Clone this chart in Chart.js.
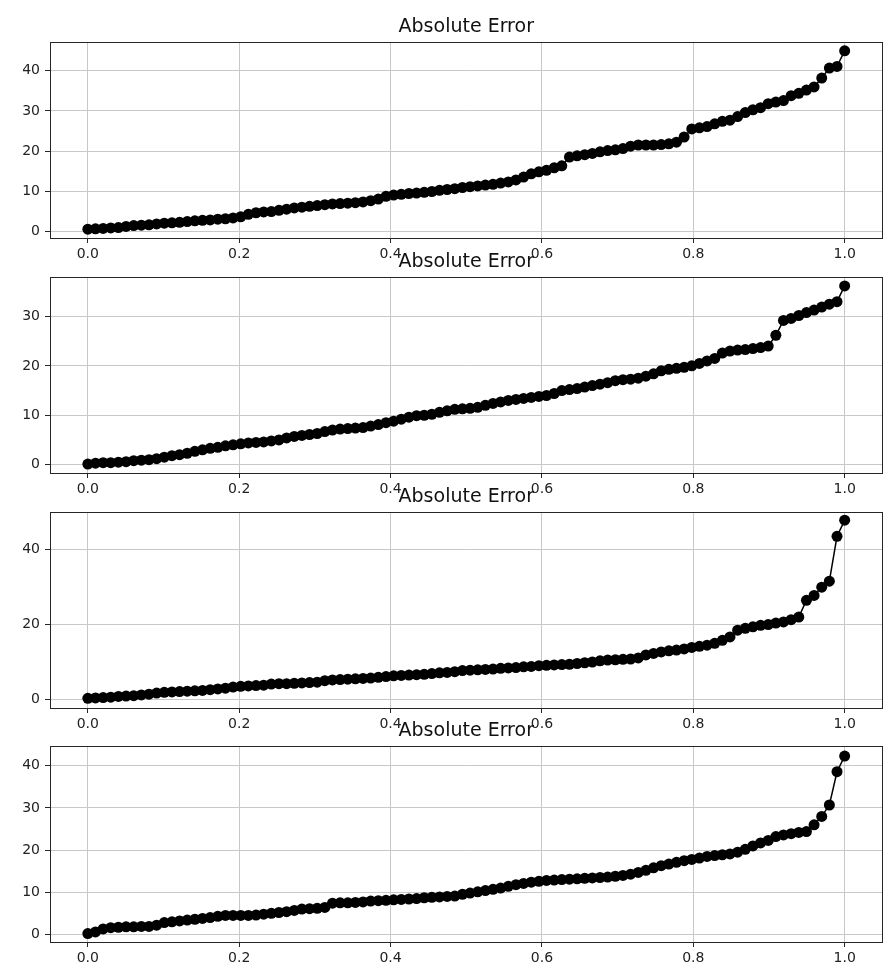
<!DOCTYPE html>
<html>
<head>
<meta charset="utf-8">
<script src="https://cdn.jsdelivr.net/npm/chart.js@4.4.1/dist/chart.umd.min.js"></script>
<style>
  html, body { margin: 0; padding: 0; background: #fff; }
  #wrap { position: relative; width: 888px; height: 973px; overflow: hidden; }
  #wrap canvas { position: absolute; left: 0; }
</style>
</head>
<body>
<div id="wrap"></div>
<script>
// ===== data (sorted absolute errors, one list per panel) =====
const panelTitle = "Absolute Error";

const errorsA = [
  0.5, 0.6, 0.7, 0.8, 0.9, 1.2, 1.4, 1.5, 1.6, 1.8,
  2.0, 2.1, 2.2, 2.4, 2.6, 2.7, 2.8, 3.0, 3.1, 3.3,
  3.6, 4.2, 4.6, 4.8, 4.9, 5.2, 5.5, 5.8, 6.0, 6.2,
  6.4, 6.6, 6.8, 6.9, 7.0, 7.1, 7.3, 7.6, 8.0, 8.7,
  9.0, 9.2, 9.4, 9.5, 9.7, 9.9, 10.2, 10.4, 10.6, 10.9,
  11.1, 11.3, 11.5, 11.7, 12.0, 12.3, 12.8, 13.5, 14.3, 14.8,
  15.2, 15.8, 16.3, 18.5, 18.8, 19.1, 19.4, 19.8, 20.1, 20.3,
  20.6, 21.2, 21.5, 21.5, 21.5, 21.6, 21.8, 22.2, 23.5, 25.5,
  25.8, 26.1, 26.8, 27.4, 27.7, 28.6, 29.6, 30.3, 30.8, 31.8,
  32.2, 32.6, 33.8, 34.4, 35.2, 36.0, 38.2, 40.7, 41.1, 45.0
];
const errorsB = [
  0.1, 0.3, 0.4, 0.4, 0.5, 0.6, 0.8, 0.9, 1.0, 1.2,
  1.5, 1.8, 2.0, 2.3, 2.7, 3.0, 3.3, 3.5, 3.8, 4.0,
  4.2, 4.4, 4.5, 4.6, 4.8, 5.0, 5.4, 5.7, 5.9, 6.1,
  6.3, 6.7, 7.0, 7.2, 7.3, 7.4, 7.5, 7.8, 8.1, 8.5,
  8.8, 9.2, 9.6, 9.9, 10.0, 10.2, 10.6, 10.9, 11.2, 11.3,
  11.4, 11.6, 12.0, 12.4, 12.7, 13.0, 13.2, 13.4, 13.6, 13.8,
  14.0, 14.4, 15.0, 15.2, 15.4, 15.7, 16.0, 16.3, 16.6, 17.0,
  17.2, 17.3, 17.5, 17.9, 18.4, 19.0, 19.3, 19.5, 19.7, 20.0,
  20.5, 21.0, 21.5, 22.6, 23.0, 23.2, 23.3, 23.5, 23.7, 24.0,
  26.2, 29.2, 29.6, 30.2, 30.8, 31.3, 31.9, 32.5, 33.0, 36.2
];
const errorsC = [
  0.2, 0.3, 0.4, 0.5, 0.7, 0.8, 0.9, 1.1, 1.3, 1.6,
  1.8, 1.9, 2.0, 2.1, 2.2, 2.3, 2.5, 2.7, 2.9, 3.2,
  3.4, 3.5, 3.6, 3.7, 4.0, 4.1, 4.1, 4.2, 4.3, 4.4,
  4.5, 4.9, 5.1, 5.2, 5.3, 5.4, 5.5, 5.6, 5.8, 6.0,
  6.2, 6.3, 6.4, 6.5, 6.6, 6.8, 7.0, 7.1, 7.3, 7.6,
  7.7, 7.8, 7.9, 8.0, 8.2, 8.3, 8.4, 8.6, 8.7, 8.9,
  9.0, 9.1, 9.2, 9.3, 9.5, 9.7, 9.9, 10.2, 10.4, 10.5,
  10.6, 10.7, 11.0, 11.8, 12.2, 12.6, 12.9, 13.1, 13.4, 13.8,
  14.1, 14.4, 14.9, 15.7, 16.6, 18.4, 18.9, 19.3, 19.7, 19.9,
  20.3, 20.6, 21.2, 21.9, 26.4, 27.7, 29.9, 31.5, 43.5, 47.8
];
const errorsD = [
  0.2, 0.6, 1.3, 1.6, 1.7, 1.8, 1.8, 1.9, 1.9, 2.2,
  2.8, 3.0, 3.2, 3.4, 3.6, 3.8, 4.0, 4.3, 4.5, 4.5,
  4.5, 4.5, 4.6, 4.8, 5.0, 5.2, 5.4, 5.7, 6.0, 6.1,
  6.2, 6.4, 7.4, 7.5, 7.5, 7.6, 7.7, 7.9, 8.0, 8.1,
  8.2, 8.3, 8.4, 8.5, 8.7, 8.8, 8.9, 9.0, 9.1, 9.5,
  9.8, 10.1, 10.4, 10.7, 11.0, 11.4, 11.8, 12.1, 12.4, 12.6,
  12.8, 12.9, 13.0, 13.1, 13.2, 13.3, 13.4, 13.5, 13.6, 13.8,
  14.0, 14.3, 14.7, 15.2, 15.8, 16.3, 16.7, 17.1, 17.5, 17.8,
  18.1, 18.5, 18.7, 18.9, 19.1, 19.5, 20.2, 21.0, 21.7, 22.3,
  23.2, 23.6, 23.9, 24.2, 24.4, 26.0, 28.0, 30.7, 38.6, 42.3
];

const xTicks = [0.0, 0.2, 0.4, 0.6, 0.8, 1.0];
const yTicksA = [0, 10, 20, 30, 40];
const yTicksB = [0, 10, 20, 30];
const yTicksC = [0, 20, 40];
const yTicksD = [0, 10, 20, 30, 40];

// ===== layout of the four panels =====
const panels = [
  { data: errorsA, ticks: yTicksA, min: -1.7, max: 47.2, top: 42 },
  { data: errorsB, ticks: yTicksB, min: -1.7, max: 38.0, top: 277 },
  { data: errorsC, ticks: yTicksC, min: -2.4, max: 50.0, top: 512 },
  { data: errorsD, ticks: yTicksD, min: -1.8, max: 44.7, top: 746 }
];
const PAD_TOP = 42, BOX_H = 196, X_AXIS_H = 30, Y_AXIS_W = 50;
const FONT = '"DejaVu Sans", sans-serif';

// frame around the axes + the title above each panel
const framePlugin = {
  id: 'frame',
  afterDraw(chart, args, opts) {
    const { ctx, chartArea: a } = chart;
    ctx.save();
    ctx.strokeStyle = '#262626';
    ctx.lineWidth = 1;
    ctx.strokeRect(Math.round(a.left) + 0.5, Math.round(a.top) + 0.5,
                   Math.round(a.right - a.left) - 1, Math.round(a.bottom - a.top));
    ctx.fillStyle = '#111';
    ctx.font = '19px ' + FONT;
    ctx.textAlign = 'center';
    ctx.textBaseline = 'alphabetic';
    ctx.fillText(opts.text, (a.left + a.right) / 2, a.top - 10);
    ctx.restore();
  }
};

const wrap = document.getElementById('wrap');

panels.forEach((p, k) => {
  const canvas = document.createElement('canvas');
  canvas.width = 888;
  canvas.height = PAD_TOP + BOX_H + X_AXIS_H;
  canvas.style.top = (p.top - PAD_TOP) + 'px';
  wrap.appendChild(canvas);

  // each sample sits at its rank position between 0 and 1
  const points = p.data.map((v, i) => ({ x: i / (p.data.length - 1), y: v }));

  new Chart(canvas.getContext('2d'), {
    type: 'line',
    data: {
      datasets: [{
        data: points,
        borderColor: '#000',
        borderWidth: 1.5,
        pointRadius: 5.5,
        pointBackgroundColor: '#000',
        pointBorderColor: '#000',
        pointBorderWidth: 0,
        pointHoverRadius: 5.5,
        tension: 0,
        fill: false
      }]
    },
    options: {
      responsive: false,
      animation: false,
      events: [],
      layout: { padding: { top: PAD_TOP, left: 0, right: 4, bottom: 0 } },
      plugins: {
        legend: { display: false },
        title: { display: false },
        tooltip: { enabled: false },
        frame: { text: panelTitle }
      },
      scales: {
        x: {
          type: 'linear',
          min: -0.05,
          max: 1.05,
          afterBuildTicks: s => { s.ticks = xTicks.map(v => ({ value: v })); },
          afterFit: s => { s.height = X_AXIS_H; },
          border: { display: false },
          grid: { color: '#c8c8c8', lineWidth: 1, tickLength: 5, tickColor: '#262626' },
          ticks: {
            padding: 3,
            color: '#222',
            font: { family: FONT, size: 14 },
            callback: v => v.toFixed(1)
          }
        },
        y: {
          min: p.min,
          max: p.max,
          afterBuildTicks: s => { s.ticks = p.ticks.map(v => ({ value: v })); },
          afterFit: s => { s.width = Y_AXIS_W; },
          border: { display: false },
          grid: { color: '#c8c8c8', lineWidth: 1, tickLength: 5, tickColor: '#262626' },
          ticks: {
            padding: 5,
            color: '#222',
            font: { family: FONT, size: 14 },
            callback: v => String(v)
          }
        }
      }
    },
    plugins: [framePlugin]
  });
});
</script>
</body>
</html>
